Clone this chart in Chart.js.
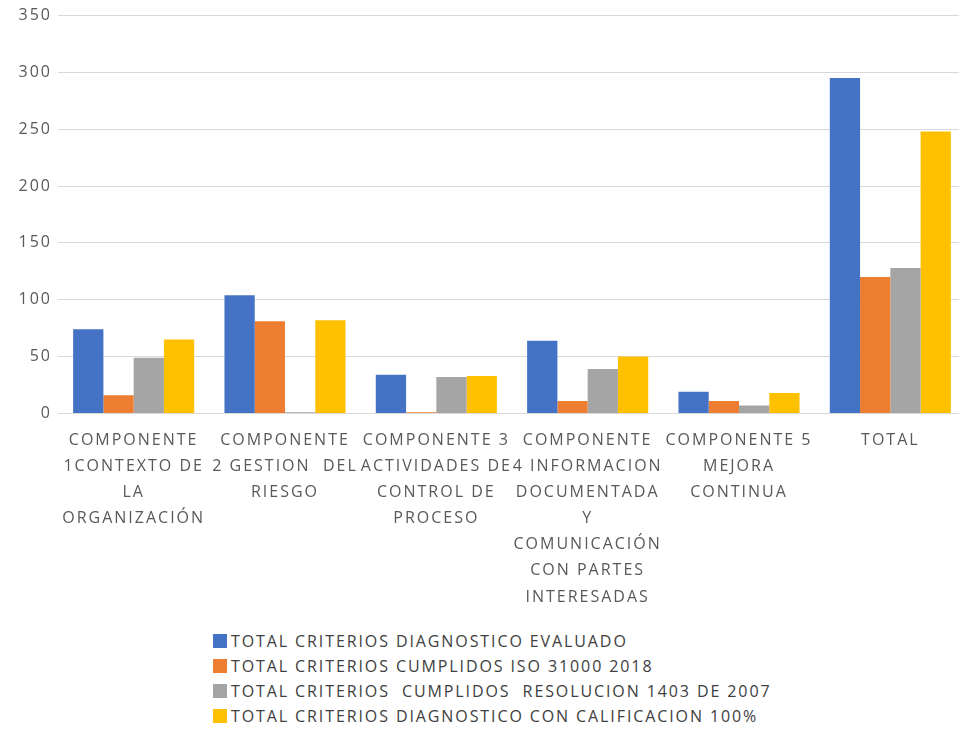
<!DOCTYPE html>
<html>
<head>
<meta charset="utf-8">
<script src="https://cdn.jsdelivr.net/npm/chart.js@4/dist/chart.umd.min.js"></script>
<style>
  body { margin: 0; background: #fff; font-family: "Open Sans", sans-serif; overflow: hidden; }
  #wrap { position: relative; width: 966px; height: 616px; }
  #legend { position: absolute; left: 213px; top: 629px; color: #404040; font-size: 16px; letter-spacing: 1.9px; }
  #legend div { height: 25px; line-height: 25px; white-space: pre; }
  #legend span { display: inline-block; width: 14px; height: 14px; margin-right: 4px; vertical-align: -1px; }
</style>
</head>
<body>
<div id="wrap"><canvas id="chart"></canvas></div>
<div id="legend"></div>
<script>
const categories = [
  ["COMPONENTE", "1CONTEXTO DE", "LA", "ORGANIZACIÓN"],
  ["COMPONENTE", "2 GESTION  DEL", "RIESGO"],
  ["COMPONENTE 3", "ACTIVIDADES DE", "CONTROL DE", "PROCESO"],
  ["COMPONENTE", "4 INFORMACION", "DOCUMENTADA", "Y", "COMUNICACIÓN", "CON PARTES", "INTERESADAS"],
  ["COMPONENTE 5", "MEJORA", "CONTINUA"],
  ["TOTAL"]
];
const seriesNames = [
  "TOTAL CRITERIOS DIAGNOSTICO EVALUADO",
  "TOTAL CRITERIOS CUMPLIDOS ISO 31000 2018",
  "TOTAL CRITERIOS  CUMPLIDOS  RESOLUCION 1403 DE 2007",
  "TOTAL CRITERIOS DIAGNOSTICO CON CALIFICACION 100%"
];
const evaluado = [74, 104, 34, 64, 19, 295];
const iso31000 = [16, 81, 1, 11, 11, 120];
const res1403 = [49, 1, 32, 39, 7, 128];
const calif100 = [65, 82, 33, 50, 18, 248];
const colors = ['#4472C4', '#ED7D31', '#A5A5A5', '#FFC000'];

// wider text like the original
const spacing = {
  id: 'spacing',
  beforeUpdate: c => { c.ctx.letterSpacing = '2px'; },
  beforeDraw: c => { c.ctx.letterSpacing = '2px'; }
};

const canvas = document.getElementById('chart');
const myChart = new Chart(canvas, {
  type: 'bar',
  data: {
    labels: categories,
    datasets: [evaluado, iso31000, res1403, calif100].map((d, i) => ({
      label: seriesNames[i],
      data: d,
      backgroundColor: colors[i],
      categoryPercentage: 0.8,
      barPercentage: 1.0
    }))
  },
  options: {
    responsive: true,
    maintainAspectRatio: false,
    animation: false,
    layout: { padding: { top: 8, right: 0, bottom: 0, left: 0 } },
    plugins: { legend: { display: false }, tooltip: { enabled: false } },
    scales: {
      x: {
        grid: { display: false },
        border: { color: '#d9d9d9' },
        ticks: {
          color: '#595959',
          maxRotation: 0,
          autoSkip: false,
          padding: 6,
          font: { family: 'Open Sans', size: 16, lineHeight: 1.63 }
        }
      },
      y: {
        min: 0, max: 350,
        grid: { color: '#d9d9d9', drawTicks: false },
        border: { display: false },
        ticks: {
          stepSize: 50,
          color: '#595959',
          padding: 6,
          font: { family: 'Open Sans', size: 16 }
        },
        afterFit: s => { s.width = 58; }
      }
    }
  },
  plugins: [spacing]
});

const legend = document.getElementById('legend');
myChart.data.datasets.forEach(ds => {
  const row = document.createElement('div');
  const box = document.createElement('span');
  box.style.background = ds.backgroundColor;
  row.appendChild(box);
  row.appendChild(document.createTextNode(ds.label));
  legend.appendChild(row);
});
</script>
</body>
</html>
